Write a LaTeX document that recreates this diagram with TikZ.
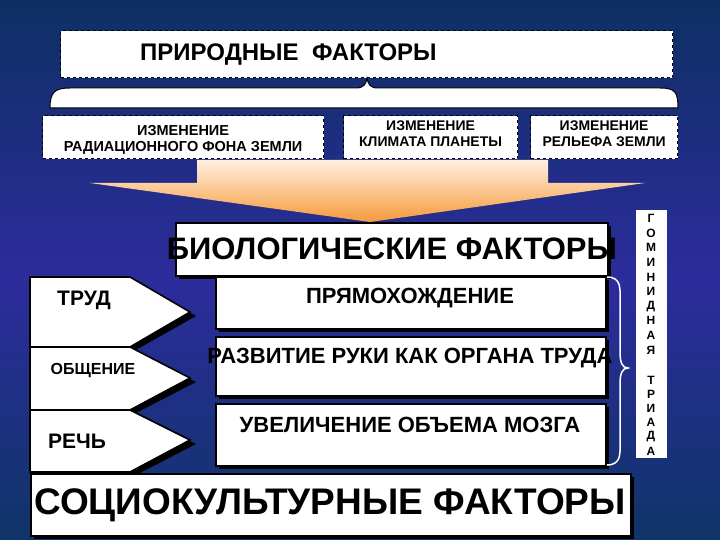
\documentclass[tikz,border=0pt]{standalone}
\usepackage{fontspec}
\setmainfont{Liberation Sans}
\usetikzlibrary{shadings}
\definecolor{bgtop}{HTML}{0E2F63}
\definecolor{bgmid}{HTML}{2C2C9C}
\definecolor{bgbot}{HTML}{0F3468}
\definecolor{peach}{HTML}{FFF0E0}
\definecolor{orng}{HTML}{F59A3A}
\newcommand{\fs}[1]{\bfseries\fontsize{#1}{#1}\selectfont}
\begin{document}
\begin{tikzpicture}[x=1pt,y=-1pt,
  dbox/.style={draw=black,dashed,line width=1.2pt,fill=white},
  wbox/.style={draw=black,line width=1.6pt,fill=white},
  shd/.style={fill=black},
  t/.style={align=center,inner sep=0pt}]
\useasboundingbox (0,0) rectangle (720,540);
\shade[top color=bgtop,bottom color=bgmid] (0,0) rectangle (720,280);
\shade[top color=bgmid,bottom color=bgbot] (0,279) rectangle (720,540);
% top box
\node[dbox,minimum width=612,minimum height=47,inner sep=0,anchor=north west] (nat) at (60,30) {};
\node[t,font=\fs{24},anchor=west] (natt) at (140,55) {ПРИРОДНЫЕ\ \ ФАКТОРЫ};
% brace
\path[fill=white,draw=black,line width=1pt] (50,108) .. controls (50,92) and (55,88) .. (70,88) -- (356,88) .. controls (364,88) and (366,84) .. (367,78)
  .. controls (368,84) and (370,88) .. (378,88) -- (660,88) .. controls (675,88) and (678,92) .. (678,108) -- cycle;
% three boxes
\node[dbox,minimum width=281,minimum height=43,anchor=north west,inner sep=0] (r1) at (42,115) {};
\node[t,font=\fs{14.5}] at ([yshift=-3]r1) {ИЗМЕНЕНИЕ\\[2pt]РАДИАЦИОННОГО ФОНА ЗЕМЛИ};
\node[dbox,minimum width=174,minimum height=43,anchor=north west,inner sep=0] (r2) at (343,115) {};
\node[t,font=\fs{14}] at ([yshift=3]r2) {ИЗМЕНЕНИЕ\\[2pt]КЛИМАТА ПЛАНЕТЫ};
\node[dbox,minimum width=147,minimum height=43,anchor=north west,inner sep=0] (r3) at (530,115) {};
\node[t,font=\fs{14}] at ([yshift=3]r3) {ИЗМЕНЕНИЕ\\[2pt]РЕЛЬЕФА ЗЕМЛИ};
% big arrow
\shade[top color=peach,bottom color=orng] (197,160) -- (548,160) -- (548,183) -- (645,183) -- (370,222) -- (90,183) -- (197,183) -- cycle;
% bio
\fill[shd] (179,226) rectangle (611,279);
\node[wbox,minimum width=432,minimum height=53,anchor=north west,inner sep=0] (bio) at (175,222) {};
\node[t,font=\fs{31}] at (bio) {БИОЛОГИЧЕСКИЕ ФАКТОРЫ};
% left chevrons
\fill[shd] (34,281) -- (134,281) -- (196,316) -- (134,351) -- (34,351) -- cycle;
\fill[shd] (34,351) -- (134,351) -- (196,382) -- (134,414) -- (34,414) -- cycle;
\fill[shd] (34,414) -- (134,414) -- (196,444) -- (134,476) -- (34,476) -- cycle;
\draw[wbox] (30,277) -- (130,277) -- (190,312) -- (130,347) -- (30,347) -- cycle;
\draw[wbox] (30,347) -- (130,347) -- (190,378) -- (130,410) -- (30,410) -- cycle;
\draw[wbox] (30,410) -- (130,410) -- (190,440) -- (130,472) -- (30,472) -- cycle;
\node[t,font=\fs{21}] (trud) at (84,300) {ТРУД};
\node[t,font=\fs{16}] (obsh) at (93,371) {ОБЩЕНИЕ};
\node[t,font=\fs{21}] (rech) at (77,441) {РЕЧЬ};
% middle boxes
\fill[shd] (219,280) rectangle (609,332);
\fill[shd] (219,340) rectangle (609,399);
\fill[shd] (219,407) rectangle (609,469);
\node[wbox,minimum width=390,minimum height=52,anchor=north west,inner sep=0] (m1) at (215,276) {};
\node[wbox,minimum width=390,minimum height=59,anchor=north west,inner sep=0] (m2) at (215,336) {};
\node[wbox,minimum width=390,minimum height=62,anchor=north west,inner sep=0] (m3) at (215,403) {};
\node[t,font=\fs{22}] at (410,298) {ПРЯМОХОЖДЕНИЕ};
\node[t,font=\fs{22}] at (410,358) {РАЗВИТИЕ РУКИ КАК ОРГАНА ТРУДА};
\node[t,font=\fs{22}] at (410,425) {УВЕЛИЧЕНИЕ ОБЪЕМА МОЗГА};
% right brace
\draw[white,line width=1.5pt] (607,277) .. controls (622,277) and (620,290) .. (620,300) -- (620,352) .. controls (620,362) and (622,368) .. (628,368)
  .. controls (622,368) and (620,374) .. (620,384) -- (620,442) .. controls (620,452) and (622,465) .. (607,465);
% vertical strip
\node[fill=white,minimum width=31,minimum height=248,anchor=north west,inner sep=0] (strip) at (636,210) {};
\foreach \l [count=\i] in {Г,О,М,И,Н,И,Д,Н,А,Я}
  \node[t,font=\fs{12}] at (651,204+14.6*\i) {\l};
\foreach \l [count=\i] in {Т,Р,И,А,Д,А}
  \node[t,font=\fs{12}] at (651,366+14.2*\i) {\l};
% socio
\fill[shd] (34,477) rectangle (634,539);
\node[wbox,minimum width=600,minimum height=62,anchor=north west,inner sep=0] (soc) at (30,473) {};
\node[t,font=\fs{37}] at (330,505) {СОЦИОКУЛЬТУРНЫЕ ФАКТОРЫ};
\end{tikzpicture}
\end{document}
